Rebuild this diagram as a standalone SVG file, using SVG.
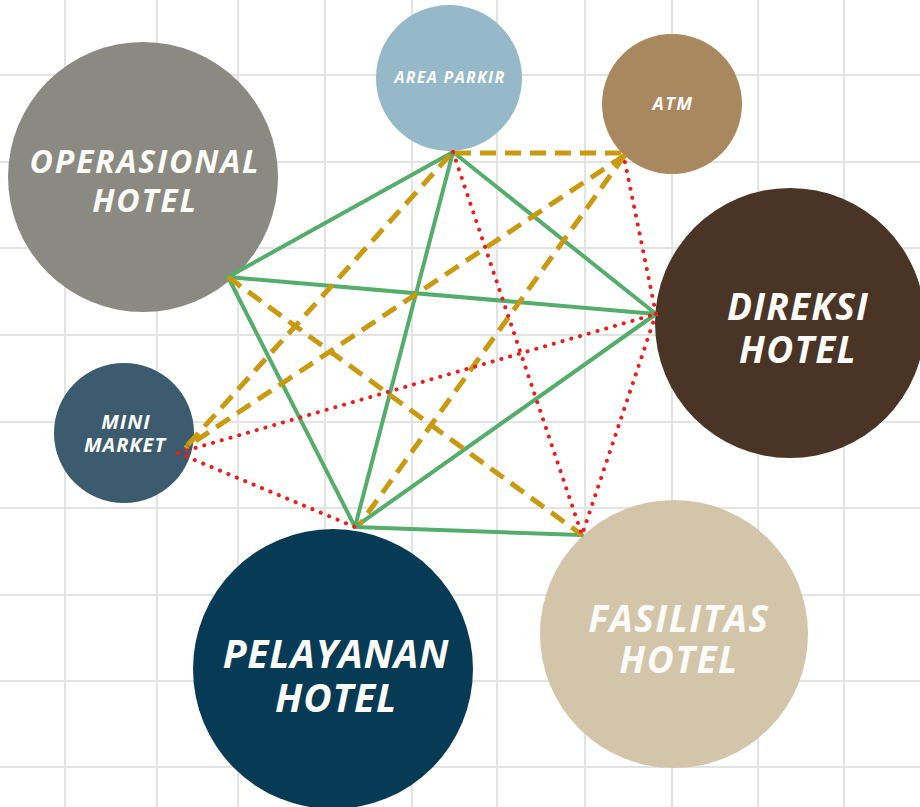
<svg xmlns="http://www.w3.org/2000/svg" width="920" height="807" viewBox="0 0 920 807">
<style>
.grid line{stroke:#e3e3e3;stroke-width:2}
.lbl{font-family:"Open Sans","Liberation Sans",sans-serif;font-weight:bold;font-style:italic;fill:#fbfbf7;text-anchor:middle}
.g{stroke:#55ad6c;stroke-width:4;fill:none;stroke-linecap:round}
.d{stroke:#c9990f;stroke-width:5;fill:none;stroke-dasharray:16 9}
.r{stroke:#ea1c1c;stroke-width:4;fill:none;stroke-linecap:round;stroke-dasharray:0.1 9}
</style>
<rect width="920" height="807" fill="#ffffff"/>
<g class="grid">
<line x1="65" y1="0" x2="65" y2="807"/>
<line x1="157" y1="0" x2="157" y2="807"/>
<line x1="238" y1="0" x2="238" y2="807"/>
<line x1="325" y1="0" x2="325" y2="807"/>
<line x1="412" y1="0" x2="412" y2="807"/>
<line x1="497" y1="0" x2="497" y2="807"/>
<line x1="585" y1="0" x2="585" y2="807"/>
<line x1="672" y1="0" x2="672" y2="807"/>
<line x1="758" y1="0" x2="758" y2="807"/>
<line x1="844" y1="0" x2="844" y2="807"/>
<line x1="0" y1="75" x2="920" y2="75"/>
<line x1="0" y1="162" x2="920" y2="162"/>
<line x1="0" y1="248" x2="920" y2="248"/>
<line x1="0" y1="335" x2="920" y2="335"/>
<line x1="0" y1="422" x2="920" y2="422"/>
<line x1="0" y1="508" x2="920" y2="508"/>
<line x1="0" y1="595" x2="920" y2="595"/>
<line x1="0" y1="681" x2="920" y2="681"/>
<line x1="0" y1="767" x2="920" y2="767"/>
</g>
<g id="operasional">
<circle cx="143" cy="177" r="135" fill="#8a8a82"/>
<text class="lbl" font-size="32" letter-spacing="1.8"><tspan x="145" y="173">OPERASIONAL</tspan><tspan x="145" y="212">HOTEL</tspan></text>
</g>
<g id="area-parkir">
<circle cx="449" cy="78" r="73" fill="#95b9c9"/>
<text class="lbl" x="450" y="83" font-size="16" letter-spacing="1.3">AREA PARKIR</text>
</g>
<g id="atm">
<circle cx="672" cy="104" r="70" fill="#a9875f"/>
<text class="lbl" x="673" y="110" font-size="18" letter-spacing="1.5">ATM</text>
</g>
<g id="direksi">
<circle cx="790" cy="323" r="135" fill="#4a3426"/>
<text class="lbl" font-size="37" letter-spacing="1.2"><tspan x="798" y="320">DIREKSI</tspan><tspan x="798" y="363">HOTEL</tspan></text>
</g>
<g id="mini-market">
<circle cx="124" cy="433" r="70" fill="#3c5b6f"/>
<text class="lbl" font-size="20" letter-spacing="1"><tspan x="126" y="429">MINI</tspan><tspan x="125" y="452">MARKET</tspan></text>
</g>
<g id="pelayanan">
<circle cx="333" cy="669" r="140" fill="#073b55"/>
<text class="lbl" font-size="39" letter-spacing="0.8"><tspan x="336" y="668">PELAYANAN</tspan><tspan x="336" y="712">HOTEL</tspan></text>
</g>
<g id="fasilitas">
<circle cx="674" cy="634" r="134" fill="#d3c5aa"/>
<text class="lbl" font-size="37" letter-spacing="1.5"><tspan x="679" y="632">FASILITAS</tspan><tspan x="679" y="673">HOTEL</tspan></text>
</g>
<g id="connectors">
<line class="g" x1="228" y1="277" x2="453" y2="152"/>
<line class="g" x1="228" y1="277" x2="656" y2="314"/>
<line class="g" x1="228" y1="277" x2="355" y2="527"/>
<line class="g" x1="453" y1="152" x2="355" y2="527"/>
<line class="g" x1="453" y1="152" x2="656" y2="314"/>
<line class="g" x1="656" y1="314" x2="355" y2="527"/>
<line class="g" x1="355" y1="527" x2="582" y2="535"/>
<line class="d" x1="455" y1="153" x2="625" y2="153"/>
<line class="d" x1="450" y1="155" x2="185" y2="448"/>
<line class="d" x1="625" y1="155" x2="185" y2="448"/>
<line class="d" x1="625" y1="155" x2="360" y2="524"/>
<line class="d" x1="228" y1="277" x2="582" y2="535"/>
<line class="r" x1="453" y1="152" x2="582" y2="535"/>
<line class="r" x1="625" y1="162" x2="656" y2="314"/>
<line class="r" x1="656" y1="314" x2="582" y2="535"/>
<line class="r" x1="178" y1="453" x2="656" y2="314"/>
<line class="r" x1="178" y1="453" x2="355" y2="527"/>
</g>
</svg>
